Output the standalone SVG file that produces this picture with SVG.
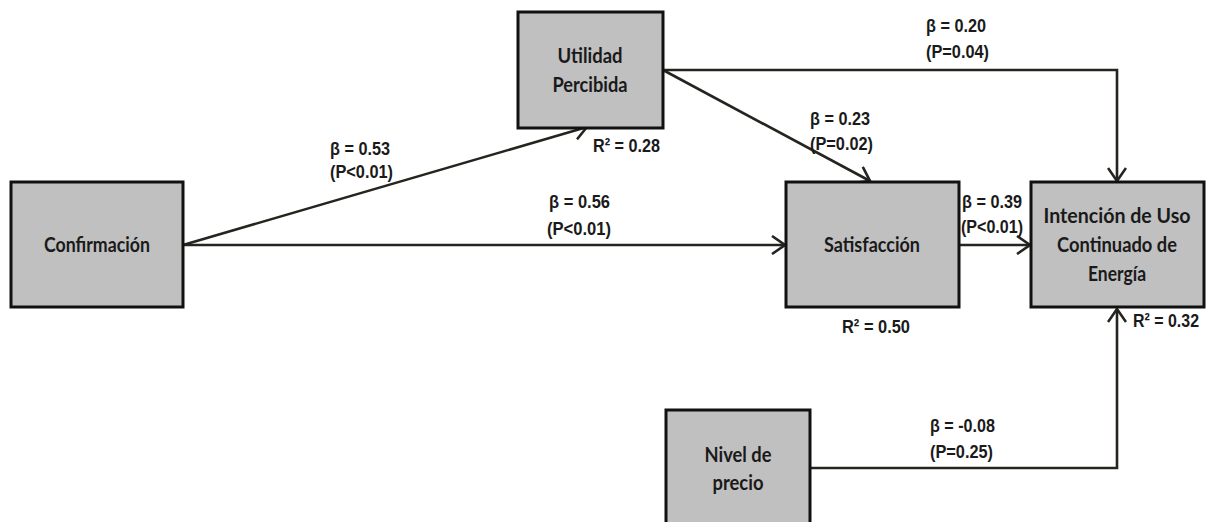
<svg xmlns="http://www.w3.org/2000/svg" width="1206" height="522" viewBox="0 0 1206 522">
<defs>
<marker id="arr" viewBox="0 0 16 20" refX="14" refY="10" markerWidth="16" markerHeight="20" markerUnits="userSpaceOnUse" orient="auto">
<path d="M1,1 L14,10 L1,19" fill="none" stroke="#26241f" stroke-width="2.6" stroke-linejoin="miter"/>
</marker>
<style>
.box{fill:#c0c0c0;stroke:#111;stroke-width:3}
.lbl{font-family:Lato,"Liberation Sans",Arial,sans-serif;font-weight:bold;font-size:21px;fill:#1a1a1a;text-anchor:middle}
.b{font-family:"Liberation Sans",Arial,sans-serif;font-weight:bold;font-size:19px;fill:#1a1a1a}
.ln{fill:none;stroke:#26241f;stroke-width:2.6}
</style>
</defs>
<rect width="1206" height="522" fill="#fff"/>
<g id="connectors">
<line class="ln" x1="183" y1="245" x2="587" y2="127" marker-end="url(#arr)"/>
<line class="ln" x1="183" y1="245" x2="785" y2="245" marker-end="url(#arr)"/>
<line class="ln" x1="663" y1="70" x2="870" y2="181" marker-end="url(#arr)"/>
<polyline class="ln" points="663,70 1117,70 1117,181" marker-end="url(#arr)"/>
<line class="ln" x1="959" y1="245" x2="1030" y2="245" marker-end="url(#arr)"/>
<polyline class="ln" points="810,468 1117,468 1117,309" marker-end="url(#arr)"/>
</g>
<g id="labels">
<text class="b" x="330" y="155" textLength="60" lengthAdjust="spacingAndGlyphs">β = 0.53</text>
<text class="b" x="330" y="178" textLength="63" lengthAdjust="spacingAndGlyphs">(P&lt;0.01)</text>
<text class="b" x="549" y="208" textLength="61" lengthAdjust="spacingAndGlyphs">β = 0.56</text>
<text class="b" x="547" y="235" textLength="64" lengthAdjust="spacingAndGlyphs">(P&lt;0.01)</text>
<text class="b" x="810" y="125" textLength="60" lengthAdjust="spacingAndGlyphs">β = 0.23</text>
<text class="b" x="810" y="150" textLength="63" lengthAdjust="spacingAndGlyphs">(P=0.02)</text>
<text class="b" x="926" y="32" textLength="60" lengthAdjust="spacingAndGlyphs">β = 0.20</text>
<text class="b" x="926" y="58" textLength="63" lengthAdjust="spacingAndGlyphs">(P=0.04)</text>
<text class="b" x="962" y="208" textLength="60" lengthAdjust="spacingAndGlyphs">β = 0.39</text>
<text class="b" x="961" y="233" textLength="62" lengthAdjust="spacingAndGlyphs">(P&lt;0.01)</text>
<text class="b" x="930" y="432" textLength="65" lengthAdjust="spacingAndGlyphs">β = -0.08</text>
<text class="b" x="930" y="458" textLength="63" lengthAdjust="spacingAndGlyphs">(P=0.25)</text>
<text class="b" x="593" y="152" textLength="67" lengthAdjust="spacingAndGlyphs">R² = 0.28</text>
<text class="b" x="842" y="333" textLength="68" lengthAdjust="spacingAndGlyphs">R² = 0.50</text>
<text class="b" x="1133" y="327" textLength="66" lengthAdjust="spacingAndGlyphs">R² = 0.32</text>
</g>
<g id="confirmacion">
<rect class="box" x="11" y="182" width="172" height="125"/>
<text class="lbl" x="97" y="252" textLength="106" lengthAdjust="spacingAndGlyphs">Confirmación</text>
</g>
<g id="utilidad">
<rect class="box" x="518" y="12" width="145" height="116"/>
<text class="lbl" x="590" y="63" textLength="65" lengthAdjust="spacingAndGlyphs">Utilidad</text>
<text class="lbl" x="590" y="92" textLength="75" lengthAdjust="spacingAndGlyphs">Percibida</text>
</g>
<g id="satisfaccion">
<rect class="box" x="786" y="182" width="173" height="125"/>
<text class="lbl" x="872" y="252" textLength="96" lengthAdjust="spacingAndGlyphs">Satisfacción</text>
</g>
<g id="intencion">
<rect class="box" x="1031" y="182" width="173" height="125"/>
<text class="lbl" x="1117" y="223" textLength="147" lengthAdjust="spacingAndGlyphs">Intención de Uso</text>
<text class="lbl" x="1117" y="252" textLength="120" lengthAdjust="spacingAndGlyphs">Continuado de</text>
<text class="lbl" x="1117" y="281" textLength="58" lengthAdjust="spacingAndGlyphs">Energía</text>
</g>
<g id="nivel">
<rect class="box" x="666" y="410" width="144" height="118"/>
<text class="lbl" x="738" y="462" textLength="67" lengthAdjust="spacingAndGlyphs">Nivel de</text>
<text class="lbl" x="738" y="490" textLength="51" lengthAdjust="spacingAndGlyphs">precio</text>
</g>
</svg>
